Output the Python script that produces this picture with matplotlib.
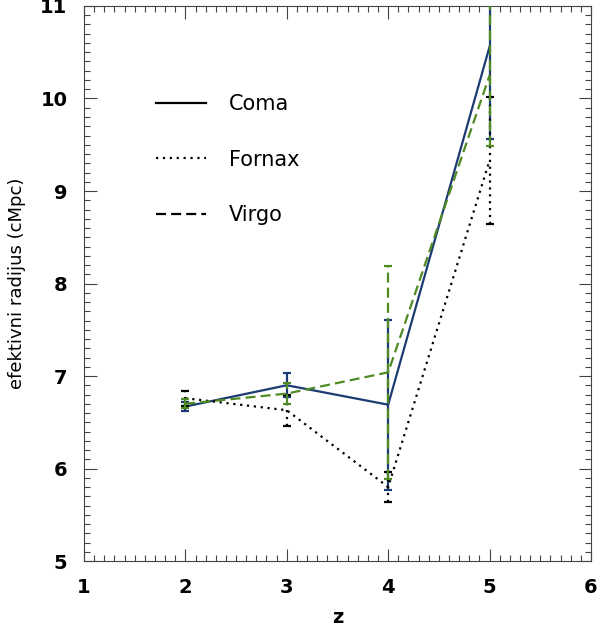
import matplotlib
matplotlib.use('Agg')
import numpy as np
from matplotlib import pyplot as plt
from matplotlib.ticker import MultipleLocator
from matplotlib.lines import Line2D

# redshift bins
z = [2, 3, 4, 5]

# effective radius per cluster (cMpc) with errors
coma = [6.67, 6.90, 6.69, 10.56]
coma_err = [0.05, 0.13, 0.92, 1.00]
fornax = [6.76, 6.63, 5.80, 9.33]
fornax_err = [0.08, 0.17, 0.16, 0.69]
virgo = [6.70, 6.81, 7.04, 10.25]
virgo_err = [0.05, 0.11, 1.15, 0.76]

names = ['Coma', 'Fornax', 'Virgo']
styles = ['-', (0, (1, 2.1)), (0, (4.5, 2.3))]
colors = ['#1c3b72', 'black', '#4f8b22']

FONT = 'DejaVu Sans'
LW = 1.6


def draw(ax, x, y, err, ls, col):
    ax.plot(x, y, linestyle=ls, color=col, lw=LW, zorder=3)
    eb = ax.errorbar(x, y, yerr=err, fmt='none', ecolor=col, elinewidth=LW,
                     capsize=3, capthick=LW, zorder=3)
    for lc in eb[2]:
        lc.set_linestyle(ls)


if __name__ == "__main__":
    fig = plt.figure(figsize=(5.99, 6.31), dpi=100)
    ax = fig.add_axes([0.1402, 0.1109, 0.8464, 0.8796])

    for y, err, ls, col in zip([coma, fornax, virgo],
                               [coma_err, fornax_err, virgo_err],
                               styles, colors):
        draw(ax, z, y, err, ls, col)

    ax.set_xlim(1, 6)
    ax.set_ylim(5, 11)
    ax.xaxis.set_major_locator(MultipleLocator(1))
    ax.xaxis.set_minor_locator(MultipleLocator(0.1))
    ax.yaxis.set_major_locator(MultipleLocator(1))
    ax.yaxis.set_minor_locator(MultipleLocator(0.1))
    ax.tick_params(which='both', direction='in', top=True, right=True,
                   color='#444444', width=0.8)
    ax.tick_params(which='major', length=9, pad=12, labelsize=14)
    ax.tick_params(which='minor', length=4)
    for sp in ax.spines.values():
        sp.set_color('#444444')
        sp.set_linewidth(0.8)
    for lab in ax.get_xticklabels() + ax.get_yticklabels():
        lab.set_fontweight('bold')
        lab.set_family(FONT)

    ax.set_xlabel('z', fontsize=14, labelpad=8, family=FONT, fontweight='bold')
    ax.set_ylabel('efektivni radijus (cMpc)', fontsize=13, labelpad=10, family=FONT)

    # legend drawn as black line samples with labels
    handles = [Line2D([0], [0], color='black', lw=LW, linestyle=ls) for ls in styles]
    leg = ax.legend(handles, names, loc='upper left', bbox_to_anchor=(0.105, 0.875),
                    frameon=False, fontsize=15, handlelength=2.4, handletextpad=1.1,
                    labelspacing=1.7)

    fig.savefig('out.png', dpi=100)
